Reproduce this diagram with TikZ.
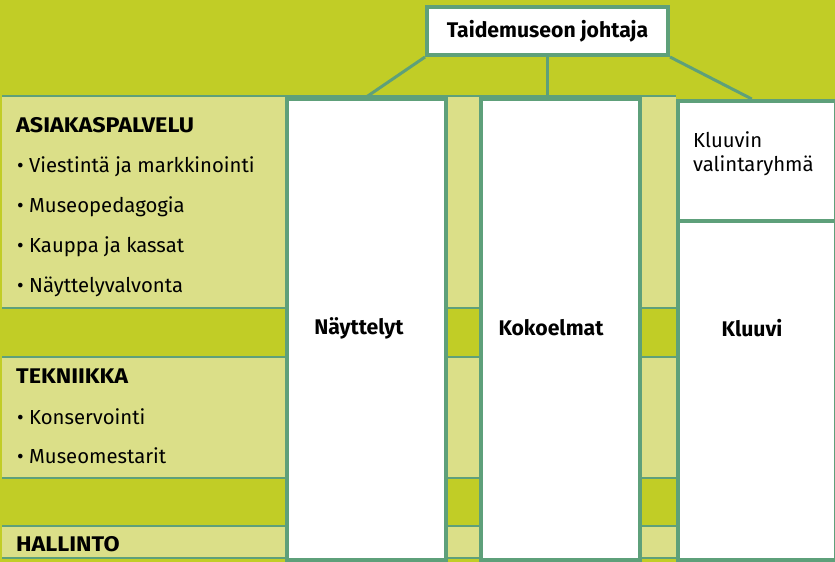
\documentclass[tikz,border=0pt]{standalone}
\usepackage{fontspec}
\setmainfont{Fira Sans}
\definecolor{olivebg}{HTML}{C1CD26}
\definecolor{lightrow}{HTML}{DBDF88}
\definecolor{tealline}{HTML}{5EA07A}
\newcommand{\capwide}[1]{\scalebox{1.1}[1]{#1}}
\begin{document}
\begin{tikzpicture}[x=1pt,y=-1pt,
  every node/.style={font=\fontsize{20.3}{24}\selectfont, text=black},
  rowline/.style={draw=tealline, line width=1.3pt},
  colbox/.style={draw=tealline, line width=3.6pt, fill=white, inner sep=0pt},
  headbox/.style={draw=tealline, line width=4pt, fill=white, inner sep=0pt, font=\fontsize{21.2}{24}\selectfont\bfseries},
  conn/.style={draw=tealline, line width=3pt},
  txt/.style={anchor=base west, inner sep=0pt},
  head/.style={txt, font=\fontsize{21.2}{24}\selectfont\bfseries},
  collabel/.style={inner sep=0pt, font=\fontsize{21.2}{24}\selectfont\bfseries}
]
\useasboundingbox (0,0) rectangle (835,562);
\fill[olivebg] (0,0) rectangle (835,562);

% row bands
\fill[lightrow] (2,96) rectangle (676,308);
\fill[lightrow] (2,357) rectangle (676,478);
\fill[lightrow] (2,526) rectangle (676,558);
\foreach \yy in {96,308,357,478,526,558} \draw[rowline] (2,\yy) -- (676,\yy);

% director
\node[headbox, minimum width=241pt, minimum height=48pt] (dir) at (547.5,31) {Taidemuseon johtaja};

% columns
\node[colbox, anchor=north west, minimum width=159pt, minimum height=461pt] (nay) at (285,97) {};
\node[colbox, anchor=north west, minimum width=159pt, minimum height=461pt] (kok) at (479,97) {};
\node[colbox, anchor=north west, minimum width=158pt, minimum height=120pt] (val) at (676,99) {};
\node[colbox, anchor=north west, minimum width=158pt, minimum height=339pt] (klu) at (676,219) {};

\node[collabel] (nayl) at (359,328) {Näyttelyt};
\node[collabel] (kokl) at (551,328) {Kokoelmat};
\node[collabel] (klul) at (752,328) {Kluuvi};
\node[txt] (val1) at (693,147) {Kluuvin};
\node[txt] (val2) at (693,171) {valintaryhmä};

% connectors
\draw[conn] (dir.south west) -- (nay.north);
\draw[conn] (dir.south) -- (dir.south |- kok.north);
\draw[conn] (dir.south east) -- ([xshift=-5pt]val.north);

% left texts
\node[head] (asi) at (16,132) {\capwide{ASIAKASPALVELU}};
\node[txt] (a1) at (17,172) {• Viestintä ja markkinointi};
\node[txt] (a2) at (17,212) {• Museopedagogia};
\node[txt] (a3) at (17,252) {• Kauppa ja kassat};
\node[txt] (a4) at (17,292) {• Näyttelyvalvonta};
\node[head] (tek) at (16,383) {\capwide{TEKNIIKKA}};
\node[txt] (t1) at (17,424) {• Konservointi};
\node[txt] (t2) at (17,463) {• Museomestarit};
\node[head] (hal) at (16,551) {\capwide{HALLINTO}};
\end{tikzpicture}
\end{document}
